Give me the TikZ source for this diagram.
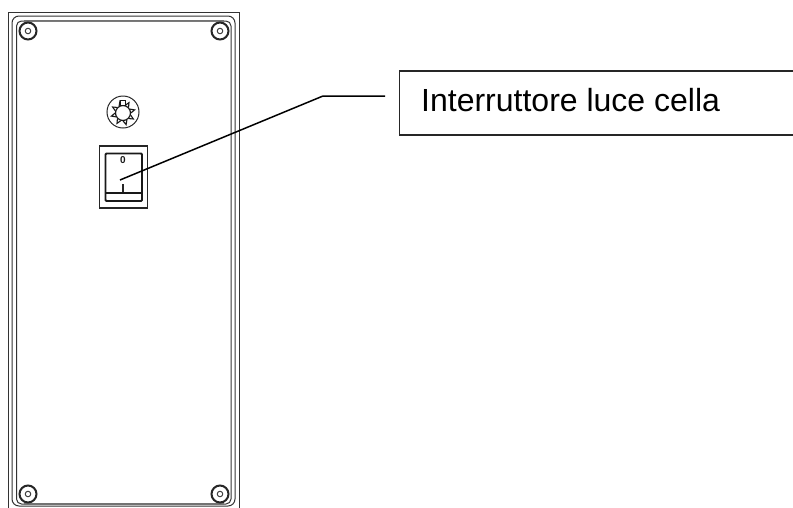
\documentclass[tikz,border=0pt]{standalone}
\usepackage{fontspec}
\setmainfont{Liberation Sans}
\tikzset{
  thinline/.style={draw=black!80,line width=1pt},
  grayline/.style={draw=black!55,line width=1.8pt},
  leader/.style={draw=black,line width=1.5pt},
  boxline/.style={draw=black!85,line width=1.5pt},
  screwring/.style={circle,draw=black!85,line width=2pt,minimum size=17pt,inner sep=0pt},
  screwhole/.style={circle,draw=black!75,line width=1pt,minimum size=5.5pt,inner sep=0pt},
  swmark/.style={inner sep=0pt,font=\fontsize{10}{10}\selectfont\bfseries,text=black!90}
}
\begin{document}
\begin{tikzpicture}[x=1pt,y=-1pt]
\useasboundingbox (0,0) rectangle (793,507);
% enclosure
\begin{scope}
\clip (0,0) rectangle (793,507);
\draw[thinline] (8,520) -- (8,12.5) -- (239,12.5) -- (239,520);
\draw[thinline,rounded corners=7pt] (12,16) rectangle (235,506);
\draw[thinline,rounded corners=5pt] (16.5,21) rectangle (231,504);
\draw[grayline] (24,20.5) -- (224,20.5);
\draw[grayline] (24,504) -- (224,504);
\end{scope}
% screws
\foreach \n/\px/\py in {a/28/31,b/220/31,c/28/494,d/220/494}{
  \node[screwring] (ring\n) at (\px,\py) {};
  \node[screwhole] (hole\n) at (\px,\py) {};
}
% lamp symbol
\node[circle,draw=black!85,line width=1pt,minimum size=32pt,inner sep=0pt] (lampframe) at (123,112) {};
\node[circle,draw=black!90,line width=1.2pt,minimum size=15pt,inner sep=0pt] (lampbulb) at (123,113) {};
\foreach \a in {30,75,120,165,210,255,300,345}{
  \draw[black!90,line width=1.1pt] ([shift={(\a-14:8)}]123,113) -- ([shift={(\a:12)}]123,113) -- ([shift={(\a+14:8)}]123,113);
}
\draw[black!90,line width=1.1pt,fill=white] (120.5,100.5) rectangle (125.5,105.5);
% switch
\draw[black!85,line width=1.4pt] (99.5,146) rectangle (147.5,208);
\draw[black!90,line width=1.9pt,rounded corners=1pt] (105.5,153.5) rectangle (142,201);
\draw[black!90,line width=1.5pt] (105.5,193) -- (142,193);
\node[swmark] (off) at (123,160) {0};
\draw[black!85,line width=1.6pt] (123,184) -- (123,192);
% label
\draw[boxline] (793,71) -- (399.5,71) -- (399.5,135) -- (793,135);
\node[anchor=base west,inner sep=0pt,font=\fontsize{32}{32}\selectfont] (label) at (421,111.5) {Interruttore luce cella};
% leader
\coordinate (tip) at (120,180);
\coordinate (bend) at (323,96);
\coordinate (leaderend) at (385,96);
\draw[leader] (tip) -- (bend) -- (leaderend);
\end{tikzpicture}
\end{document}
